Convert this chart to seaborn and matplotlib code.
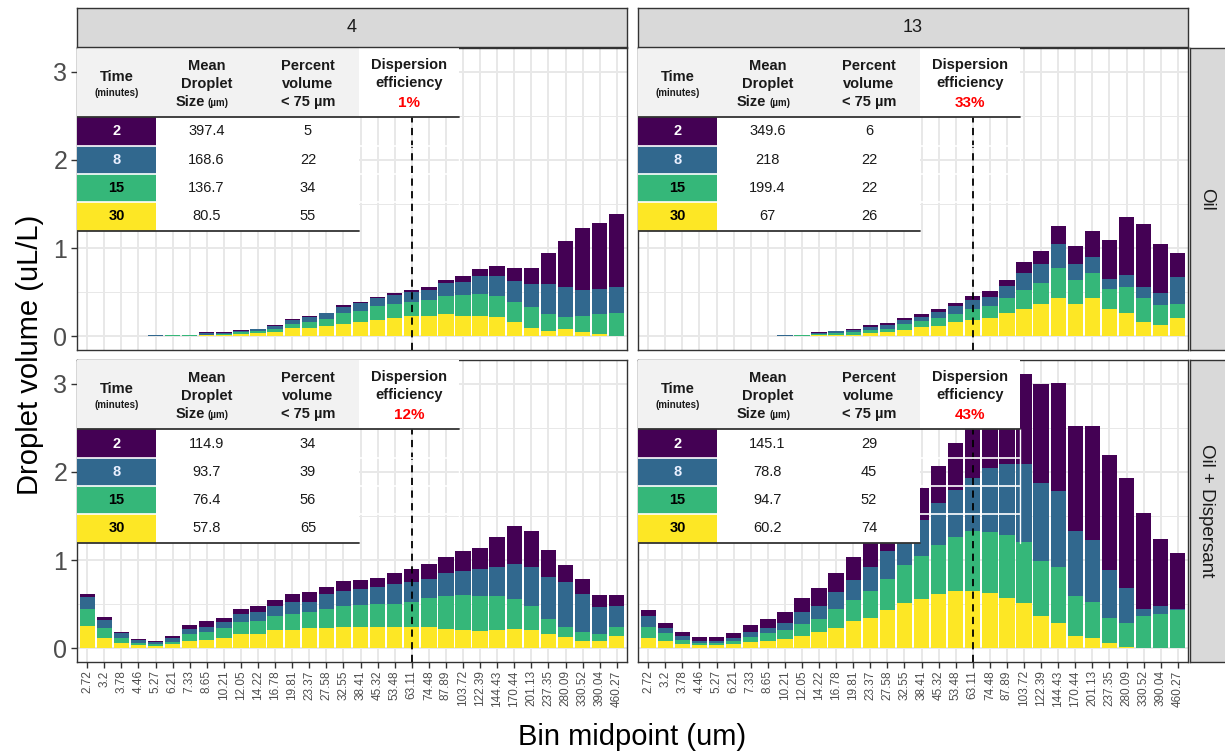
import matplotlib
matplotlib.use("Agg")
import matplotlib.pyplot as plt
import numpy as np
import pandas as pd
import seaborn as sns
from matplotlib.patches import Rectangle
from matplotlib.lines import Line2D

# ---------------- data ----------------
bin_labels = ["2.72", "3.2", "3.78", "4.46", "5.27", "6.21", "7.33", "8.65", "10.21",
              "12.05", "14.22", "16.78", "19.81", "23.37", "27.58", "32.55", "38.41",
              "45.32", "53.48", "63.11", "74.48", "87.89", "103.72", "122.39", "144.43",
              "170.44", "201.13", "237.35", "280.09", "330.52", "390.04", "460.27"]
time_levels = ["2", "8", "15", "30"]
temps = ["4", "13"]
treatments = ["Oil", "Oil + Dispersant"]
cutoff_bin = "63.11"

# Oil, 4
oil4_t2 = [0, 0, 0, 0, 0, 0, 0, 0.01, 0.005, 0.005, 0.005, 0.01, 0.015, 0.015, 0.01, 0.03,
           0.02, 0.02, 0.02, 0.02, 0.03, 0.04, 0.06, 0.08, 0.12, 0.15, 0.19, 0.36, 0.525,
           0.71, 0.75, 0.835]
oil4_t8 = [0, 0, 0, 0, 0.02, 0, 0, 0.015, 0.015, 0.02, 0.02, 0.035, 0.04, 0.055, 0.06, 0.06,
           0.085, 0.085, 0.10, 0.105, 0.115, 0.145, 0.15, 0.205, 0.225, 0.24, 0.26, 0.34,
           0.335, 0.29, 0.29, 0.285]
oil4_t15 = [0, 0, 0, 0, 0, 0.015, 0.015, 0.01, 0.01, 0.015, 0.02, 0.03, 0.05, 0.065, 0.08,
            0.125, 0.125, 0.155, 0.16, 0.17, 0.185, 0.205, 0.245, 0.25, 0.235, 0.225, 0.23,
            0.185, 0.135, 0.185, 0.223, 0.262]
oil4_t30 = [0, 0, 0, 0, 0, 0, 0, 0.01, 0.015, 0.03, 0.04, 0.05, 0.09, 0.10, 0.12, 0.145,
            0.165, 0.19, 0.21, 0.225, 0.225, 0.25, 0.225, 0.225, 0.22, 0.165, 0.10, 0.065,
            0.085, 0.045, 0.027, 0.008]

# Oil, 13
oil13_t2 = [0, 0, 0, 0, 0, 0, 0, 0, 0, 0, 0.005, 0.005, 0.01, 0.02, 0.02, 0.02, 0.03, 0.03,
            0.035, 0.04, 0.065, 0.07, 0.125, 0.14, 0.205, 0.205, 0.29, 0.44, 0.66, 0.715,
            0.555, 0.275]
oil13_t8 = [0, 0, 0, 0, 0, 0, 0, 0, 0.02, 0, 0.015, 0.02, 0.03, 0.03, 0.045, 0.05, 0.05,
            0.07, 0.085, 0.11, 0.105, 0.14, 0.195, 0.215, 0.265, 0.185, 0.18, 0.115, 0.13,
            0.125, 0.135, 0.30]
oil13_t15 = [0, 0, 0, 0, 0, 0, 0, 0, 0, 0.015, 0.015, 0.02, 0.025, 0.035, 0.04, 0.065,
             0.065, 0.09, 0.09, 0.125, 0.135, 0.16, 0.205, 0.245, 0.345, 0.27, 0.285, 0.23,
             0.29, 0.265, 0.23, 0.16]
oil13_t30 = [0, 0, 0, 0, 0, 0, 0, 0, 0, 0, 0.01, 0.015, 0.02, 0.04, 0.045, 0.075, 0.105,
             0.12, 0.165, 0.18, 0.21, 0.27, 0.315, 0.365, 0.435, 0.37, 0.435, 0.305, 0.27,
             0.165, 0.125, 0.21]

# Oil + Dispersant, 4
disp4_t2 = [0.04, 0.03, 0.02, 0.015, 0.015, 0.025, 0.045, 0.06, 0.05, 0.055, 0.065, 0.065,
            0.085, 0.11, 0.075, 0.105, 0.105, 0.105, 0.125, 0.14, 0.17, 0.18, 0.22, 0.245,
            0.345, 0.425, 0.41, 0.31, 0.20, 0.175, 0.135, 0.12]
disp4_t8 = [0.135, 0.085, 0.05, 0.025, 0.025, 0.04, 0.06, 0.065, 0.065, 0.09, 0.10, 0.115,
            0.14, 0.12, 0.175, 0.18, 0.185, 0.19, 0.23, 0.225, 0.215, 0.27, 0.275, 0.305,
            0.33, 0.395, 0.445, 0.475, 0.505, 0.435, 0.31, 0.24]
disp4_t15 = [0.195, 0.115, 0.055, 0.03, 0.02, 0.025, 0.075, 0.08, 0.11, 0.14, 0.15, 0.165,
             0.185, 0.185, 0.22, 0.23, 0.245, 0.26, 0.26, 0.29, 0.335, 0.37, 0.395, 0.39,
             0.385, 0.345, 0.27, 0.175, 0.12, 0.095, 0.075, 0.105]
disp4_t30 = [0.25, 0.12, 0.065, 0.035, 0.025, 0.05, 0.085, 0.10, 0.12, 0.16, 0.16, 0.205,
             0.205, 0.225, 0.225, 0.245, 0.245, 0.245, 0.24, 0.24, 0.24, 0.22, 0.21, 0.20,
             0.205, 0.22, 0.205, 0.16, 0.125, 0.085, 0.085, 0.14]

# Oil + Dispersant, 13
disp13_t2 = [0.065, 0.065, 0.05, 0.04, 0.04, 0.05, 0.08, 0.10, 0.12, 0.165, 0.205, 0.22,
             0.26, 0.30, 0.32, 0.32, 0.365, 0.42, 0.53, 0.665, 0.57, 0.53, 1.015, 1.125,
             1.23, 1.19, 1.295, 1.30, 1.255, 1.08, 0.765, 0.63]
disp13_t8 = [0.125, 0.055, 0.045, 0.03, 0.03, 0.035, 0.06, 0.06, 0.08, 0.135, 0.14, 0.19,
             0.23, 0.27, 0.315, 0.34, 0.41, 0.48, 0.535, 0.605, 0.73, 0.805, 0.89, 0.88,
             0.86, 0.735, 0.70, 0.545, 0.39, 0.085, 0.095, 0.01]
disp13_t15 = [0.125, 0.085, 0.045, 0.02, 0.02, 0.04, 0.055, 0.085, 0.105, 0.135, 0.145,
              0.225, 0.235, 0.305, 0.355, 0.43, 0.49, 0.555, 0.615, 0.68, 0.69, 0.71, 0.695,
              0.63, 0.63, 0.46, 0.41, 0.288, 0.27, 0.357, 0.385, 0.44]
disp13_t30 = [0.12, 0.085, 0.05, 0.035, 0.035, 0.045, 0.075, 0.085, 0.105, 0.14, 0.19,
              0.225, 0.315, 0.345, 0.43, 0.51, 0.555, 0.615, 0.65, 0.65, 0.63, 0.575, 0.51,
              0.365, 0.29, 0.135, 0.115, 0.057, 0.02, 0.008, 0, 0]

# table contents
oil4_mean = ["397.4", "168.6", "136.7", "80.5"]
oil4_pct = ["5", "22", "34", "55"]
oil4_eff = "1%"
oil13_mean = ["349.6", "218", "199.4", "67"]
oil13_pct = ["6", "22", "22", "26"]
oil13_eff = "33%"
disp4_mean = ["114.9", "93.7", "76.4", "57.8"]
disp4_pct = ["34", "39", "56", "65"]
disp4_eff = "12%"
disp13_mean = ["145.1", "78.8", "94.7", "60.2"]
disp13_pct = ["29", "45", "52", "74"]
disp13_eff = "43%"

panel_series = {
    ("Oil", "4"): [oil4_t2, oil4_t8, oil4_t15, oil4_t30],
    ("Oil", "13"): [oil13_t2, oil13_t8, oil13_t15, oil13_t30],
    ("Oil + Dispersant", "4"): [disp4_t2, disp4_t8, disp4_t15, disp4_t30],
    ("Oil + Dispersant", "13"): [disp13_t2, disp13_t8, disp13_t15, disp13_t30],
}
panel_tables = {
    ("Oil", "4"): (oil4_mean, oil4_pct, oil4_eff),
    ("Oil", "13"): (oil13_mean, oil13_pct, oil13_eff),
    ("Oil + Dispersant", "4"): (disp4_mean, disp4_pct, disp4_eff),
    ("Oil + Dispersant", "13"): (disp13_mean, disp13_pct, disp13_eff),
}

records = []
for (treat, temp), series in panel_series.items():
    for t, arr in zip(time_levels, series):
        for i, v in enumerate(arr):
            records.append({"treatment": treat, "temp": temp, "time": t,
                            "bin": i, "volume": v})
df = pd.DataFrame(records)

palette = {"2": "#440154", "8": "#31688E", "15": "#35B779", "30": "#FDE725"}
text_on = {"2": "white", "8": "#EAF0FF", "15": "black", "30": "black"}

# ---------------- style ----------------
sns.set_theme(style="white")
plt.rcParams['font.family'] = ['Liberation Sans', 'DejaVu Sans']

FW, FH = 1225, 755
fig = plt.figure(figsize=(FW / 100, FH / 100), dpi=100)
fig.patch.set_facecolor("white")


def px_axes(x0, y0, x1, y1):
    return fig.add_axes([x0 / FW, 1 - y1 / FH, (x1 - x0) / FW, (y1 - y0) / FH])


col_x = {"4": (77, 627), "13": (638, 1188)}
row_y = {"Oil": (48, 350), "Oil + Dispersant": (360, 662)}
cut_idx = bin_labels.index(cutoff_bin)
GRID = "#E8E8E8"
DARK = "#333333"


def draw_table(ax, means, pcts, eff):
    PW, PH = 550.0, 302.0
    T = ax.transAxes

    def X(p):
        return p / PW

    def Y(p):
        return 1 - p / PH

    rows = [0, 69, 98, 126, 154, 183]
    z = 20
    # header background
    ax.add_patch(Rectangle((X(0), Y(69)), X(282), 69 / PH, transform=T,
                           facecolor="#F2F2F2", edgecolor="none", zorder=z))
    ax.add_patch(Rectangle((X(282), Y(69)), X(100), 69 / PH, transform=T,
                           facecolor="white", edgecolor="none", zorder=z))
    # body
    for r, t in enumerate(time_levels):
        top, bot = rows[r + 1], rows[r + 2]
        ax.add_patch(Rectangle((X(0), Y(bot)), X(79), (bot - top) / PH, transform=T,
                               facecolor=palette[t], edgecolor="none", zorder=z))
        ax.add_patch(Rectangle((X(79), Y(bot)), X(203), (bot - top) / PH, transform=T,
                               facecolor="white", edgecolor="none", zorder=z))
        yc = Y((top + bot) / 2)
        ax.text(X(39.5), yc, t, transform=T, ha="center", va="center", fontsize=10.5,
                fontweight="bold", color=text_on[t], zorder=z + 2)
        ax.text(X(129.5), yc, means[r], transform=T, ha="center", va="center",
                fontsize=10.5, color="#1A1A1A", zorder=z + 2)
        ax.text(X(231), yc, pcts[r], transform=T, ha="center", va="center",
                fontsize=10.5, color="#1A1A1A", zorder=z + 2)
    # white separators between rows
    for rr in rows[2:5]:
        ax.add_line(Line2D([X(0), X(382)], [Y(rr), Y(rr)], transform=T, color="white",
                           lw=1.2, zorder=z + 1))
    ax.add_line(Line2D([X(382), X(382)], [Y(69), Y(183)], transform=T, color="white",
                       lw=1.0, zorder=z + 1))
    # black rules
    ax.add_line(Line2D([X(0), X(382)], [Y(69), Y(69)], transform=T, color=DARK,
                       lw=1.3, zorder=z + 3))
    ax.add_line(Line2D([X(0), X(282)], [Y(183), Y(183)], transform=T, color=DARK,
                       lw=1.3, zorder=z + 3))
    # header texts
    hk = dict(transform=T, ha="center", va="center", fontweight="bold",
              color="#1A1A1A", zorder=z + 2)
    ax.text(X(39.5), Y(29), "Time", fontsize=10.5, **hk)
    ax.text(X(39.5), Y(45), "(minutes)", transform=T, ha="center", va="center",
            fontsize=7, fontweight="bold", color="#1A1A1A", zorder=z + 2)
    ax.text(X(129.5), Y(18), "Mean", fontsize=10.5, **hk)
    ax.text(X(129.5), Y(36), "Droplet", fontsize=10.5, **hk)
    ax.text(X(128), Y(54), "Size", transform=T, ha="right", va="center", fontsize=10.5,
            fontweight="bold", color="#1A1A1A", zorder=z + 2)
    ax.text(X(131), Y(55), "(µm)", transform=T, ha="left", va="center", fontsize=7,
            fontweight="bold", color="#1A1A1A", zorder=z + 2)
    ax.text(X(231), Y(18), "Percent", fontsize=10.5, **hk)
    ax.text(X(231), Y(36), "volume", fontsize=10.5, **hk)
    ax.text(X(231), Y(54), "< 75 µm", fontsize=10.5, **hk)
    ax.text(X(332), Y(17), "Dispersion", fontsize=10.5, **hk)
    ax.text(X(332), Y(35), "efficiency", fontsize=10.5, **hk)
    ax.text(X(332), Y(55), eff, transform=T, ha="center", va="center", fontsize=11,
            fontweight="bold", color="#FF0000", zorder=z + 2)


for treat in treatments:
    for temp in temps:
        x0, x1 = col_x[temp]
        y0, y1 = row_y[treat]
        ax = px_axes(x0, y0, x1, y1)
        sub = df[(df.treatment == treat) & (df.temp == temp)]
        # first hue level is drawn on top of the stack -> 30 min at the bottom
        sns.histplot(data=sub, x="bin", weights="volume", hue="time",
                     hue_order=time_levels, multiple="stack", discrete=True,
                     shrink=0.9, palette=palette, alpha=1, linewidth=0,
                     legend=False, ax=ax, zorder=2)
        ax.set_xlim(-0.6, 31.6)
        ax.set_ylim(-0.155, 3.27)
        ax.set_axisbelow(True)
        ax.set_xticks(range(len(bin_labels)))
        ax.set_yticks([0, 1, 2, 3])
        ax.set_yticks([0.5, 1.5, 2.5], minor=True)
        ax.grid(which="major", color=GRID, lw=1.4)
        ax.grid(which="minor", axis="y", color=GRID, lw=0.7)
        ax.set_xlabel("")
        ax.set_ylabel("")
        for s in ax.spines.values():
            s.set_color(DARK)
            s.set_linewidth(1.0)
        ax.axvline(cut_idx, color="black", lw=1.3, ls=(0, (4, 3)), zorder=5)
        if treat == treatments[-1]:
            ax.set_xticklabels(bin_labels, rotation=90, fontsize=8.5, color="#4D4D4D")
            ax.tick_params(axis="x", length=4, width=1, color=DARK, pad=2, bottom=True)
        else:
            ax.set_xticklabels([])
            ax.tick_params(axis="x", length=0)
        if temp == temps[0]:
            ax.set_yticklabels(["0", "1", "2", "3"], fontsize=18, color="#4D4D4D")
            ax.tick_params(axis="y", length=4, width=1, color=DARK, pad=3, left=True)
        else:
            ax.set_yticklabels([])
            ax.tick_params(axis="y", length=0)
        mean, pct, eff = panel_tables[(treat, temp)]
        draw_table(ax, mean, pct, eff)

# strips
for temp in temps:
    x0, x1 = col_x[temp]
    sax = px_axes(x0, 8, x1, 47)
    sax.set_facecolor("#D9D9D9")
    sax.set_xticks([])
    sax.set_yticks([])
    for s in sax.spines.values():
        s.set_color(DARK)
        s.set_linewidth(1.0)
    sax.text(0.5, 0.5, temp, transform=sax.transAxes, ha="center", va="center",
             fontsize=13, color="#1A1A1A")
for treat in treatments:
    y0, y1 = row_y[treat]
    sax = px_axes(1190, y0, 1232, y1)
    sax.set_facecolor("#D9D9D9")
    sax.set_xticks([])
    sax.set_yticks([])
    for s in sax.spines.values():
        s.set_color(DARK)
        s.set_linewidth(1.0)
    sax.text(17 / 42, 0.5, treat, transform=sax.transAxes, ha="center", va="center",
             rotation=-90, fontsize=13.5, color="#1A1A1A")

fig.text(30 / FW, 1 - 355 / FH, "Droplet volume (uL/L)", rotation=90, ha="center",
         va="center", fontsize=21, color="black")
fig.text(632 / FW, 1 - 737 / FH, "Bin midpoint (um)", ha="center", va="center",
         fontsize=21, color="black")

fig.savefig("out.png", dpi=100, facecolor="white")
